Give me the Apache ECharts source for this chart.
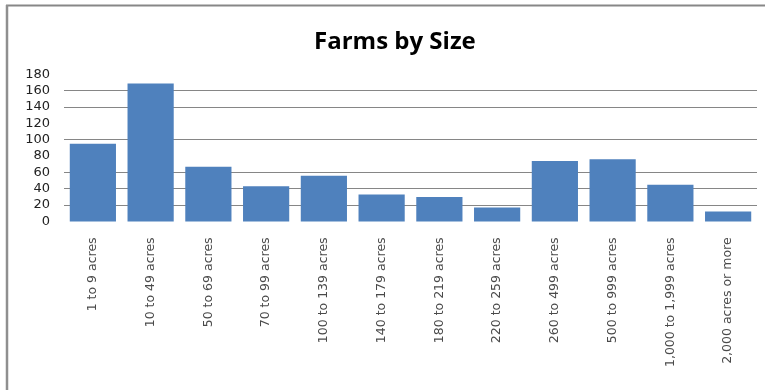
<!DOCTYPE html>
<html>
<head>
<meta charset="utf-8">
<title>Farms by Size</title>
<script src="https://cdn.jsdelivr.net/npm/echarts@6/dist/echarts.min.js"></script>
<style>
  html, body { margin: 0; padding: 0; background: #ffffff; }
  #chart { width: 765px; height: 390px; }
</style>
</head>
<body>
<div id="chart"></div>
<script>
// Farm size classes and number of farms in each class
const sizeClasses = [
  '1 to 9 acres', '10 to 49 acres', '50 to 69 acres', '70 to 99 acres',
  '100 to 139 acres', '140 to 179 acres', '180 to 219 acres', '220 to 259 acres',
  '260 to 499 acres', '500 to 999 acres', '1,000 to 1,999 acres', '2,000 acres or more'
];
const farmCounts = [95, 169, 67, 43, 56, 33, 30, 17, 74, 76, 45, 12];

// Value axis ticks
const yMin = 0;
const yMax = 180;
const yStep = 20;

// Rule colour for each tick 0..180; a transparent entry leaves that rule out
const CLEAR = 'rgba(0,0,0,0)';
const RULE = '#868686';
const gridColors = [CLEAR, RULE, RULE, RULE, CLEAR, RULE, CLEAR, RULE, RULE, CLEAR];

const chart = echarts.init(document.getElementById('chart'), null, { renderer: 'canvas' });

chart.setOption({
  animation: false,
  backgroundColor: '#ffffff',
  title: {
    text: 'Farms by Size',
    left: 309,
    top: 25,
    textStyle: {
      fontFamily: 'Open Sans',
      fontWeight: 'bold',
      fontSize: 24,
      color: '#000000'
    }
  },
  graphic: [
    {
      type: 'line',
      shape: { x1: 6, y1: 5.5, x2: 765, y2: 5.5 },
      style: { stroke: '#878787', lineWidth: 2 }
    },
    {
      type: 'line',
      shape: { x1: 7, y1: 5, x2: 7, y2: 390 },
      style: { stroke: '#8f8f8f', lineWidth: 2.5 }
    }
  ],
  grid: {
    left: 64,
    right: 8,
    top: 74.4,
    bottom: 168.6,
    containLabel: false
  },
  xAxis: {
    type: 'category',
    data: sizeClasses,
    axisLine: { show: false },
    axisTick: { show: false },
    axisLabel: {
      rotate: 90,
      interval: 0,
      margin: 16,
      fontFamily: 'DejaVu Sans',
      fontSize: 12.5,
      color: '#4a4a4a'
    }
  },
  yAxis: {
    type: 'value',
    min: yMin,
    max: yMax,
    interval: yStep,
    axisLine: { show: false },
    axisTick: { show: false },
    axisLabel: {
      margin: 14,
      fontFamily: 'DejaVu Sans',
      fontSize: 13,
      color: '#222222'
    },
    splitLine: {
      show: true,
      showMinLine: true,
      showMaxLine: true,
      lineStyle: { color: gridColors, width: 1.2 }
    }
  },
  series: [
    {
      type: 'bar',
      data: farmCounts,
      barCategoryGap: '20%',
      itemStyle: { color: '#4f81bd' }
    }
  ]
});
</script>
</body>
</html>
